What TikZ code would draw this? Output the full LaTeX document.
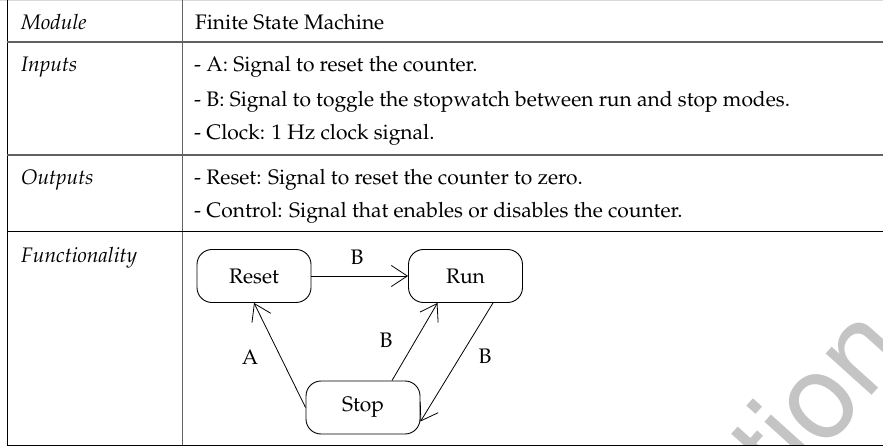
\documentclass[tikz,border=0pt]{standalone}
\usepackage[T1]{fontenc}
\usepackage{mathpazo}
\usetikzlibrary{arrows.meta,calc}

\tikzset{
  txt/.style={font=\fontsize{21}{25}\selectfont},
  cell/.style={txt, anchor=base west, inner sep=0pt},
  state/.style={txt, draw, line width=0.9pt, rounded corners=15pt,
                minimum width=114pt, minimum height=53pt, inner sep=0pt},
  trans/.style={-{Straight Barb[length=16pt,width=21pt]}, line width=0.8pt},
  lbl/.style={txt, inner sep=0pt},
  rule/.style={line width=1.3pt, black!62},
  frame/.style={line width=1pt, black},
  wmark/.style={font=\fontfamily{phv}\fontsize{118}{118}\selectfont, text=black!23, inner sep=0pt}
}

\begin{document}
\begin{tikzpicture}[x=1pt,y=-1pt]
  \useasboundingbox (0,0) rectangle (883,446);
  \fill[white] (0,0) rectangle (883,446);

  % faint watermark fragment, clipped to the page
  \begin{scope}
    \clip (0,0) rectangle (883,446);
    \node[wmark, rotate=48] (wm) at (816,396) {tion};
  \end{scope}

  % table rules
  \draw[line width=0.6pt, black!15] (0,0.5) -- (883,0.5);
  \draw[frame] (7,0) -- (7,446);
  \draw[rule, line width=1pt] (182,0) -- (182,446);
  \draw[rule] (7,42) -- (883,42);
  \draw[rule] (7,155) -- (883,155);
  \draw[frame] (7,232) -- (883,232);
  \draw[frame] (7,445) -- (883,445);

  % left column
  \node[cell] (hmod) at (21,30)  {\itshape Module};
  \node[cell] (hin)  at (21,72)  {\itshape Inputs};
  \node[cell] (hout) at (21,185) {\itshape Outputs};
  \node[cell] (hfun) at (21,262) {\itshape Functionality};

  % right column
  \node[cell] (vmod) at (195,30)  {Finite State Machine};
  \node[cell] (in1)  at (194,72)  {- A: Signal to reset the counter.};
  \node[cell] (in2)  at (194,107) {- B: Signal to toggle the stopwatch between run and stop modes.};
  \node[cell] (in3)  at (194,140) {- Clock: 1 Hz clock signal.};
  \node[cell] (out1) at (194,185) {- Reset: Signal to reset the counter to zero.};
  \node[cell] (out2) at (194,218) {- Control: Signal that enables or disables the counter.};

  % state machine
  \node[state] (reset) at (254,276)   {Reset};
  \node[state] (run)   at (465.5,276) {Run};
  \node[state] (stop)  at (363,407.5) {Stop};

  \draw[trans] (reset.east) -- (run.west);
  \draw[trans] (stop.west) -- (reset.south);
  \draw[trans] ($(stop.north)+(29,0)$) -- ($(run.south)+(-28,0)$);
  \draw[trans] ($(run.south)+(27.5,0)$) -- ($(stop.east)+(0,14)$);

  \node[lbl] (lb1) at (357,257) {B};
  \node[lbl] (la)  at (250,357) {A};
  \node[lbl] (lb2) at (386,340) {B};
  \node[lbl] (lb3) at (485,356) {B};
\end{tikzpicture}
\end{document}
